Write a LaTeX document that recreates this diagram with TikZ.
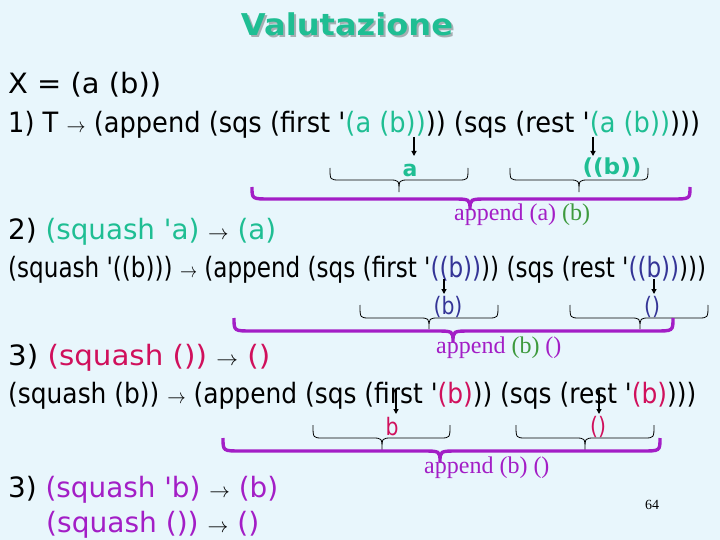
\documentclass[tikz,border=0pt]{standalone}
\usepackage{fontspec}
\usepackage{graphicx}
\setmainfont{DejaVu Sans}
\newfontfamily\serf{Liberation Serif}
\usetikzlibrary{arrows.meta}
\definecolor{bgc}{HTML}{E8F6FC}
\definecolor{tealc}{HTML}{1FBE93}
\definecolor{bluec}{HTML}{343496}
\definecolor{redc}{HTML}{D0105C}
\definecolor{purc}{HTML}{A31EC6}
\definecolor{grnc}{HTML}{3E9A3E}
\definecolor{shad}{HTML}{A6AEB2}
\newcommand{\myq}{\textquotesingle}
\newcommand{\ar}{\ {\color{black}\fontsize{22}{26}\selectfont$\rightarrow$}\ }
\newcommand{\ttl}{\resizebox{212pt}{\height}{Valutazione}}
% brace: style, x0, x1, xc, ytop, yline, ytip, r
\newcommand{\brc}[8]{\draw[#1] (#2,#5) .. controls (#2,#6) .. ({#2+#8},#6) -- ({#4-#8},#6) .. controls (#4,#6) .. (#4,#7) .. controls (#4,#6) .. ({#4+#8},#6) -- ({#3-#8},#6) .. controls (#3,#6) .. (#3,#5);}
\begin{document}
\begin{tikzpicture}[x=1pt,y=-1pt,
  txt/.style={anchor=base west,inner sep=0pt,font=\fontsize{28}{34}\selectfont},
  lab/.style={inner sep=0pt,font=\fontsize{24}{28}\selectfont},
  blab/.style={inner sep=0pt,font=\bfseries\fontsize{22}{26}\selectfont,text=tealc},
  apl/.style={anchor=base west,inner sep=0pt,font=\serf\fontsize{24}{28}\selectfont,text=purc},
  arr/.style={-{Triangle[length=5pt,width=5pt]},line width=1.2pt},
  sbr/.style={line width=0.8pt,black},
  pbr/.style={line width=3.4pt,purc}]
\fill[bgc] (0,0) rectangle (720,540);
\useasboundingbox (0,0) rectangle (720,540);
% title with shadow
\node[anchor=base,inner sep=0pt,font=\bfseries\fontsize{30}{36}\selectfont] (title) at (347,36)
  {\makebox[0pt][l]{\hspace{2pt}\raisebox{-2pt}{\textcolor{shad}{\ttl}}}\textcolor{tealc}{\ttl}};
% lines
\node[txt] (l0) at (8,94) {\resizebox{153pt}{\height}{X = (a (b))}};
\node[txt] (l1) at (8,133) {\resizebox{692pt}{\height}{1) T\ar(append (sqs (first \myq\textcolor{tealc}{(a (b))})) (sqs (rest \myq\textcolor{tealc}{(a (b))})))}};
\node[txt] (l2) at (8,240) {\resizebox{268pt}{\height}{2) \textcolor{tealc}{(squash \myq a)}\ar\textcolor{tealc}{(a)}}};
\node[txt] (l3) at (8,277) {\resizebox{698pt}{\height}{(squash \myq((b)))\ar(append (sqs (first \myq\textcolor{bluec}{((b))})) (sqs (rest \myq\textcolor{bluec}{((b))})))}};
\node[txt] (l4) at (8,365) {\resizebox{262pt}{\height}{3) \textcolor{redc}{(squash ())}\ar\textcolor{redc}{()}}};
\node[txt] (l5) at (8,403) {\resizebox{688pt}{\height}{(squash (b))\ar(append (sqs (first \myq\textcolor{redc}{(b)})) (sqs (rest \myq\textcolor{redc}{(b)})))}};
\node[txt] (l6) at (8,497) {\resizebox{270pt}{\height}{3) \textcolor{purc}{(squash \myq b)}\ar\textcolor{purc}{(b)}}};
\node[txt] (l7) at (46,532) {\resizebox{213pt}{\height}{\textcolor{purc}{(squash ())}\ar\textcolor{purc}{()}}};
% labels step 1
\node[blab] (la) at (410,170) {a};
\node[blab] (lbb) at (612,168) {\resizebox{59pt}{\height}{((b))}};
% labels step 2
\node[lab,text=bluec] (lb2) at (448,307) {\scalebox{0.85}[1]{(b)}};
\node[lab,text=bluec] (le2) at (652,307) {\scalebox{0.85}[1]{()}};
% labels step 3
\node[lab,text=redc] (lb3) at (392,427) {\scalebox{0.85}[1]{b}};
\node[lab,text=redc] (le3) at (598,427) {\scalebox{0.85}[1]{()}};
% arrows
\coordinate (s1a) at (414,137); \coordinate (e1a) at (414,156);
\coordinate (s1b) at (593,137); \coordinate (e1b) at (593,156);
\coordinate (s2a) at (444,279); \coordinate (e2a) at (444,294);
\coordinate (s2b) at (654,279); \coordinate (e2b) at (654,294);
\coordinate (s3a) at (396,390); \coordinate (e3a) at (396,414);
\coordinate (s3b) at (599,390); \coordinate (e3b) at (599,414);
\draw[arr] (s1a) -- (e1a); \draw[arr] (s1b) -- (e1b);
\draw[arr] (s2a) -- (e2a); \draw[arr] (s2b) -- (e2b);
\draw[arr] (s3a) -- (e3a); \draw[arr] (s3b) -- (e3b);
% small braces
\brc{sbr}{330}{468}{399}{168}{180}{192}{10}
\brc{sbr}{510}{648}{579}{168}{180}{192}{10}
\brc{sbr}{360}{498}{429}{305}{318}{329}{10}
\brc{sbr}{570}{708}{640}{305}{318}{329}{10}
\brc{sbr}{313}{450}{382}{425}{438}{450}{10}
\brc{sbr}{516}{654}{585}{425}{438}{450}{10}
% purple braces
\brc{pbr}{252}{690}{470}{187}{199}{210}{18}
\brc{pbr}{234}{673}{453}{318}{331}{342}{18}
\brc{pbr}{223}{660}{440}{438}{451}{462}{18}
% append labels
\node[apl] (ap1) at (454,221) {append (a) \textcolor{grnc}{(b)}};
\node[apl] (ap2) at (436,353) {append \textcolor{grnc}{(b)} ()};
\node[apl] (ap3) at (424,473) {append (b) ()};
\node[anchor=base,inner sep=0pt,font=\serf\fontsize{14}{16}\selectfont] (pg) at (652,509) {64};
\end{tikzpicture}
\end{document}
